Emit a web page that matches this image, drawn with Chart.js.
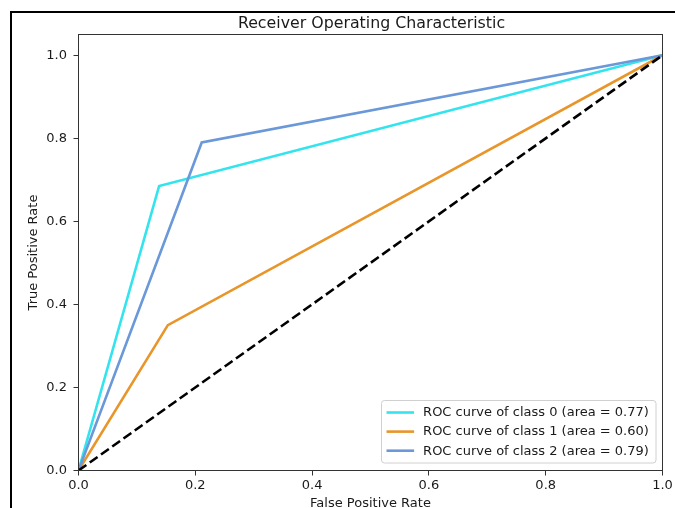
<!DOCTYPE html>
<html>
<head>
<meta charset="utf-8">
<script src="https://cdn.jsdelivr.net/npm/chart.js@4.4.1/dist/chart.umd.min.js"></script>
<style>
  html, body { margin: 0; padding: 0; background: #fff; overflow: hidden; }
  canvas { display: block; }
</style>
</head>
<body>
<canvas id="chart" width="675" height="508"></canvas>
<script>
// ROC data
const fpr0 = [0, 0.138, 1];
const tpr0 = [0, 0.685, 1];
const fpr1 = [0, 0.153, 1];
const tpr1 = [0, 0.35, 1];
const fpr2 = [0, 0.211, 1];
const tpr2 = [0, 0.79, 1];
const diagX = [0, 1];
const diagY = [0, 1];
const classNames = ["0", "1", "2"];
const areas = ["0.77", "0.60", "0.79"];
const colors = ["#33e4ee", "#e8952a", "#6a98d8"];
const xTicks = [0, 0.2, 0.4, 0.6, 0.8, 1.0];
const yTicks = [0, 0.2, 0.4, 0.6, 0.8, 1.0];

const FONT = "'DejaVu Sans', sans-serif";
const TEXT = "#1a1a1a";

const toPoints = (xs, ys) => xs.map((x, i) => ({ x: x, y: ys[i] }));

const curves = [
  toPoints(fpr0, tpr0),
  toPoints(fpr1, tpr1),
  toPoints(fpr2, tpr2),
];

const datasets = curves.map((pts, i) => ({
  label: `ROC curve of class ${classNames[i]} (area = ${areas[i]})`,
  data: pts,
  borderColor: colors[i],
  borderWidth: 2.6,
  pointRadius: 0,
  tension: 0,
  order: 3 - i,
}));
datasets.push({
  label: "chance",
  data: toPoints(diagX, diagY),
  borderColor: "#000",
  borderWidth: 2.6,
  borderDash: [9.6, 4.2],
  pointRadius: 0,
  order: 0,
});

// black screenshot frame (left and top edges only)
const frame = {
  id: "frame",
  beforeDraw(chart) {
    const ctx = chart.ctx;
    ctx.save();
    ctx.fillStyle = "#fff";
    ctx.fillRect(0, 0, chart.width, chart.height);
    ctx.fillStyle = "#000";
    ctx.fillRect(10, 11, 2, chart.height - 11);
    ctx.fillRect(10, 11, chart.width - 10, 2);
    ctx.restore();
  },
};

// title, spines and legend box drawn on top
const extras = {
  id: "extras",
  afterDraw(chart) {
    const { ctx, chartArea: a } = chart;
    ctx.save();
    // spines
    ctx.strokeStyle = "#333";
    ctx.lineWidth = 1;
    ctx.strokeRect(a.left, a.top, a.right - a.left, a.bottom - a.top);

    // title
    ctx.fillStyle = TEXT;
    ctx.font = `15.8px ${FONT}`;
    ctx.textAlign = "center";
    ctx.textBaseline = "alphabetic";
    ctx.fillText("Receiver Operating Characteristic", (a.left + a.right) / 2 + 1, 27.5);

    // legend, lower right
    const bx = a.right - 281, by = a.bottom - 70;
    const bw = 274.5, bh = 62.5;
    ctx.beginPath();
    ctx.roundRect(bx, by, bw, bh, 3);
    ctx.fillStyle = "rgba(255,255,255,0.8)";
    ctx.fill();
    ctx.strokeStyle = "#d0d0d0";
    ctx.lineWidth = 1;
    ctx.stroke();
    ctx.font = `13px ${FONT}`;
    ctx.textAlign = "left";
    ctx.textBaseline = "middle";
    for (let i = 0; i < 3; i++) {
      const ds = chart.data.datasets[i];
      const y = by + 12 + i * 19.1;
      ctx.beginPath();
      ctx.moveTo(bx + 5, y);
      ctx.lineTo(bx + 32.6, y);
      ctx.strokeStyle = ds.borderColor;
      ctx.lineWidth = 2.6;
      ctx.stroke();
      ctx.fillStyle = TEXT;
      ctx.fillText(ds.label, bx + 41.6, y + 0.5);
    }
    ctx.restore();
  },
};

new Chart(document.getElementById("chart").getContext("2d"), {
  type: "line",
  data: { datasets: datasets },
  options: {
    responsive: false,
    animation: false,
    layout: { padding: { left: 14, top: 34.5, right: 12.5, bottom: 0 } },
    plugins: {
      legend: { display: false },
      title: { display: false },
      tooltip: { enabled: false },
    },
    scales: {
      x: {
        type: "linear",
        min: 0,
        max: 1,
        afterFit: (s) => { s.height = 37.5; },
        afterBuildTicks: (s) => { s.ticks = xTicks.map((v) => ({ value: v })); },
        border: { display: false },
        grid: { drawOnChartArea: false, drawTicks: true, tickLength: 5, tickColor: "#333" },
        ticks: {
          padding: 2,
          maxRotation: 0,
          color: TEXT,
          font: { family: FONT, size: 13 },
          callback: (v) => Number(v).toFixed(1),
        },
        title: {
          display: true,
          text: "False Positive Rate",
          color: TEXT,
          font: { family: FONT, size: 13 },
          padding: { top: 0, bottom: -3 },
        },
      },
      y: {
        type: "linear",
        min: 0,
        max: 1.05,
        afterFit: (s) => { s.width = 64.5; },
        afterBuildTicks: (s) => { s.ticks = yTicks.map((v) => ({ value: v })); },
        border: { display: false },
        grid: { drawOnChartArea: false, drawTicks: true, tickLength: 5, tickColor: "#333" },
        ticks: {
          padding: 6.5,
          color: TEXT,
          font: { family: FONT, size: 13 },
          callback: (v) => Number(v).toFixed(1),
        },
        title: {
          display: true,
          text: "True Positive Rate",
          color: TEXT,
          font: { family: FONT, size: 13 },
          padding: { top: 12, bottom: 0 },
        },
      },
    },
  },
  plugins: [frame, extras],
});
</script>
</body>
</html>
